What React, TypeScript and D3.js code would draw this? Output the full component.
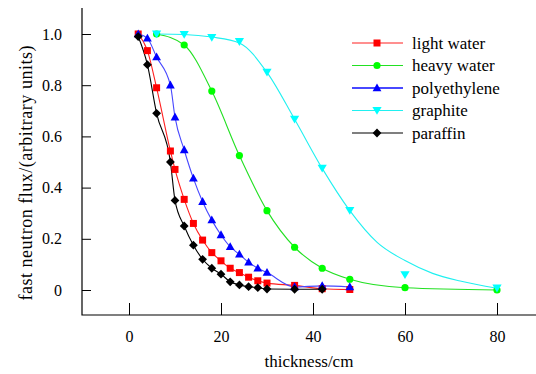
import { useEffect, useRef } from 'react';
import * as d3 from 'd3';

// thickness (cm) and relative fast neutron flux
const lightWaterX = [2, 4, 6, 9, 10, 12, 14, 16, 18, 20, 22, 24, 26, 28, 30, 36, 42, 48];
const lightWaterY = [1.0, 0.935, 0.79, 0.543, 0.471, 0.354, 0.26, 0.195, 0.146, 0.114, 0.085, 0.068, 0.05, 0.036, 0.027, 0.018, 0.005, 0.002];

const heavyWaterX = [6, 12, 18, 24, 30, 36, 42, 48, 60, 80];
const heavyWaterY = [1.0, 0.957, 0.777, 0.525, 0.31, 0.167, 0.085, 0.042, 0.009, 0.0];

const polyX = [2, 4, 6, 9, 10, 12, 14, 16, 18, 20, 22, 24, 26, 28, 30, 36, 42, 48];
const polyY = [1.0, 0.983, 0.91, 0.8, 0.675, 0.547, 0.436, 0.345, 0.273, 0.215, 0.169, 0.139, 0.108, 0.085, 0.068, 0.012, 0.016, 0.012];

const graphiteX = [6, 12, 18, 24, 30, 36, 42, 48, 60, 80];
const graphiteY = [1.0, 0.998, 0.986, 0.97, 0.85, 0.667, 0.475, 0.31, 0.059, 0.007];
// the graphite line is a fitted curve that misses the 60 cm point
const graphiteFitX = [6, 12, 18, 24, 30, 36, 42, 48, 54, 60, 66, 72, 80];
const graphiteFitY = [1.0, 0.998, 0.988, 0.965, 0.85, 0.667, 0.475, 0.31, 0.185, 0.115, 0.065, 0.035, 0.007];

const paraffinX = [2, 4, 6, 9, 10, 12, 14, 16, 18, 20, 22, 24, 26, 28, 30, 36, 42];
const paraffinY = [0.99, 0.88, 0.69, 0.5, 0.35, 0.25, 0.175, 0.12, 0.085, 0.062, 0.032, 0.02, 0.013, 0.009, 0.004, 0.003, 0.003];

const xTicks = [0, 20, 40, 60, 80];
const yTicks = [0, 0.2, 0.4, 0.6, 0.8, 1.0];

type Pt = [number, number];
const zip = (xs: number[], ys: number[]): Pt[] => xs.map((x, i) => [x, ys[i]]);

const series = [
    { name: 'light water', pts: zip(lightWaterX, lightWaterY), line: zip(lightWaterX, lightWaterY), color: '#ff0000', lineColor: '#ff2020', marker: 'square' },
    { name: 'heavy water', pts: zip(heavyWaterX, heavyWaterY), line: zip(heavyWaterX, heavyWaterY), color: '#00ff00', lineColor: '#22e022', marker: 'circle' },
    { name: 'polyethylene', pts: zip(polyX, polyY), line: zip(polyX, polyY), color: '#0000ff', lineColor: '#4848ff', marker: 'triUp' },
    { name: 'graphite', pts: zip(graphiteX, graphiteY), line: zip(graphiteFitX, graphiteFitY), color: '#00ffff', lineColor: '#20f0f0', marker: 'triDown' },
    { name: 'paraffin', pts: zip(paraffinX, paraffinY), line: zip(paraffinX, paraffinY), color: '#000000', lineColor: '#000000', marker: 'diamond' },
];

function markerPath(kind: string) {
    switch (kind) {
        case 'square': return 'M-3.5,-3.5H3.5V3.5H-3.5Z';
        case 'circle': return 'M3.6,0A3.6,3.6 0 1,1 -3.6,0A3.6,3.6 0 1,1 3.6,0Z';
        case 'triUp': return 'M0,-4.6L4.4,3.2H-4.4Z';
        case 'triDown': return 'M0,4.2L4.6,-3.6H-4.6Z';
        default: return 'M0,-4.4L4.4,0L0,4.4L-4.4,0Z';
    }
}

const FONT = "'Liberation Serif', 'Times New Roman', serif";

export default function App() {
    const svgRef = useRef<SVGSVGElement>(null);

    useEffect(() => {
        if (!svgRef.current) return;
        const svg = d3.select(svgRef.current);
        svg.selectAll('*').remove();

        const x = d3.scaleLinear().domain([0, 80]).range([129, 497]);
        const y = d3.scaleLinear().domain([0, 1]).range([290, 34]);
        const axisLeftX = 82;
        const axisBottomY = 315;

        // axes with inward ticks
        const yAxis = svg.append('g')
            .attr('transform', `translate(${axisLeftX},0)`)
            .call(d3.axisLeft(y).tickValues(yTicks).tickSize(-9).tickPadding(20)
                .tickFormat(d => (d === 0 ? '0' : d3.format('.1f')(d as number))));
        yAxis.select('.domain').remove();
        yAxis.selectAll('text').style('font-family', FONT).style('font-size', '16px').attr('fill', '#000');
        yAxis.selectAll('line').attr('stroke', '#000');

        const xAxis = svg.append('g')
            .attr('transform', `translate(0,${axisBottomY})`)
            .call(d3.axisBottom(x).tickValues(xTicks).tickSize(-12).tickPadding(16).tickFormat(d3.format('d')));
        xAxis.select('.domain').remove();
        xAxis.selectAll('text').style('font-family', FONT).style('font-size', '16px').attr('fill', '#000');
        xAxis.selectAll('line').attr('stroke', '#000');

        svg.append('path')
            .attr('d', `M${axisLeftX},8V${axisBottomY}H536`)
            .attr('fill', 'none')
            .attr('stroke', '#000')
            .attr('stroke-width', 1.2);

        // titles
        svg.append('text')
            .attr('x', 309).attr('y', 367)
            .attr('text-anchor', 'middle')
            .style('font-family', FONT).style('font-size', '17px')
            .text('thickness/cm');

        svg.append('text')
            .attr('transform', 'translate(32,173) rotate(-90)')
            .attr('text-anchor', 'middle')
            .attr('textLength', 255)
            .attr('lengthAdjust', 'spacing')
            .style('font-family', FONT).style('font-size', '18px')
            .text('fast neutron flux/(arbitrary units)');

        // curves and markers
        const line = d3.line<Pt>()
            .x(d => x(d[0]))
            .y(d => y(d[1]))
            .curve(d3.curveMonotoneX);

        series.forEach(s => {
            svg.append('path')
                .datum(s.line)
                .attr('fill', 'none')
                .attr('stroke', s.lineColor)
                .attr('stroke-width', 1.1)
                .attr('d', line);
        });
        series.forEach(s => {
            svg.append('g').selectAll('path')
                .data(s.pts)
                .enter()
                .append('path')
                .attr('transform', d => `translate(${x(d[0])},${y(d[1])})`)
                .attr('d', markerPath(s.marker))
                .attr('fill', s.color);
        });

        // legend
        const legend = svg.append('g');
        series.forEach((s, i) => {
            const ly = 43 + i * 22.5;
            legend.append('line')
                .attr('x1', 352).attr('x2', 403)
                .attr('y1', ly).attr('y2', ly)
                .attr('stroke', s.lineColor)
                .attr('stroke-width', s.marker === 'triUp' ? 1.8 : 1.1);
            legend.append('path')
                .attr('transform', `translate(377,${ly})`)
                .attr('d', markerPath(s.marker))
                .attr('fill', s.color);
            legend.append('text')
                .attr('x', 412).attr('y', ly)
                .attr('dy', '0.33em')
                .style('font-family', FONT).style('font-size', '17px')
                .text(s.name);
        });
    }, []);

    return (
        <svg
            ref={svgRef}
            width={536}
            height={374}
            style={{ position: 'absolute', left: 0, top: 0, background: '#fff' }}
        />
    );
}
